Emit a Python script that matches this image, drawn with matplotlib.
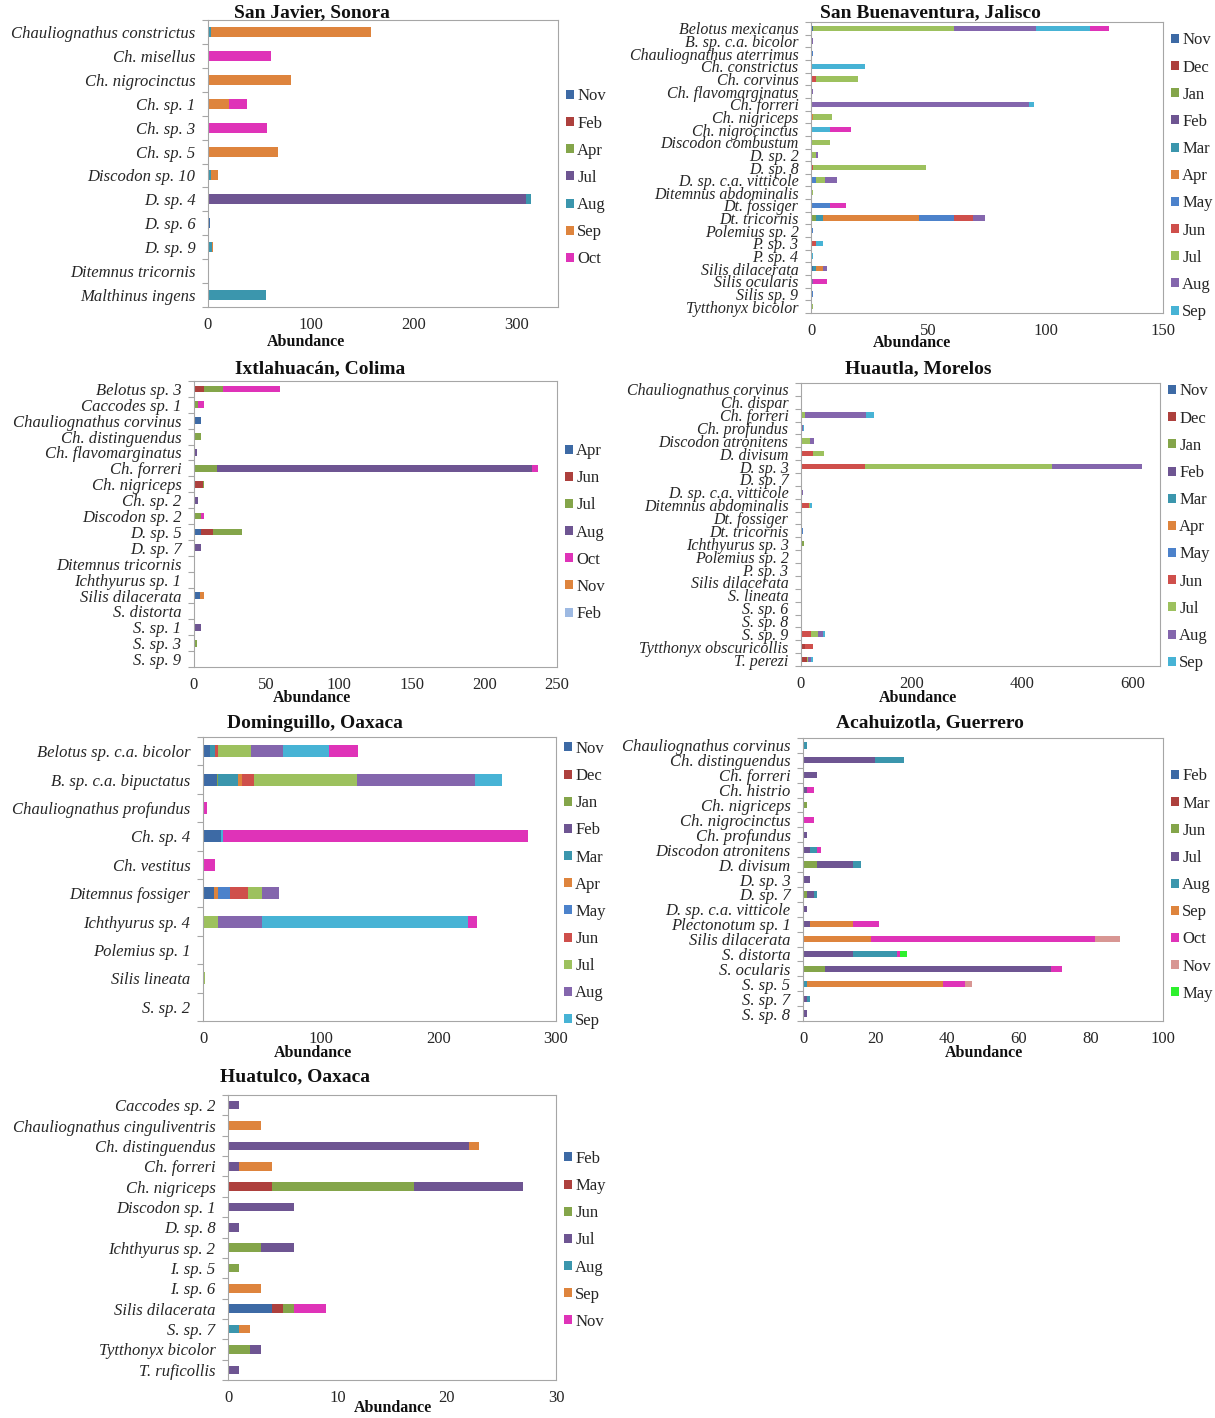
import matplotlib
matplotlib.use('Agg')
import matplotlib.pyplot as plt
from matplotlib.patches import Patch
import numpy as np

plt.rcParams['font.family'] = ['Liberation Serif', 'DejaVu Serif']

# ---------------- San Javier, Sonora ----------------
sj_months = ['Nov', 'Feb', 'Apr', 'Jul', 'Aug', 'Sep', 'Oct']
sj_species = ['Chauliognathus constrictus', 'Ch. misellus', 'Ch. nigrocinctus',
              'Ch. sp. 1', 'Ch. sp. 3', 'Ch. sp. 5', 'Discodon sp. 10', 'D. sp. 4',
              'D. sp. 6', 'D. sp. 9', 'Ditemnus tricornis', 'Malthinus ingens']
sj_values = [
    # Nov Feb Apr Jul Aug Sep Oct
    [0, 0, 0, 0, 3, 155, 0],
    [0, 0, 0, 0, 0, 0, 61],
    [0, 0, 0, 0, 0, 81, 0],
    [0, 0, 0, 0, 0, 20, 18],
    [0, 0, 0, 0, 0, 0, 57],
    [0, 0, 0, 0, 0, 68, 0],
    [0, 0, 0, 0, 3, 7, 0],
    [0, 0, 0, 309, 5, 0, 0],
    [2, 0, 0, 0, 0, 0, 0],
    [0, 0, 0, 0, 4, 1, 0],
    [0, 0, 1, 0, 0, 0, 0],
    [0, 0, 0, 0, 56, 0, 0],
]

# ---------------- San Buenaventura, Jalisco ----------------
sb_months = ['Nov', 'Dec', 'Jan', 'Feb', 'Mar', 'Apr', 'May', 'Jun', 'Jul', 'Aug', 'Sep', 'Oct']
sb_species = ['Belotus mexicanus', 'B. sp. c.a. bicolor', 'Chauliognathus aterrimus',
              'Ch. constrictus', 'Ch. corvinus', 'Ch. flavomarginatus', 'Ch. forreri',
              'Ch. nigriceps', 'Ch. nigrocinctus', 'Discodon combustum', 'D. sp. 2',
              'D. sp. 8', 'D. sp. c.a. vitticole', 'Ditemnus abdominalis', 'Dt. fossiger',
              'Dt. tricornis', 'Polemius sp. 2', 'P. sp. 3', 'P. sp. 4', 'Silis dilacerata',
              'Silis ocularis', 'Silis sp. 9', 'Tytthonyx bicolor']
sb_values = [
    # Nov Dec Jan Feb Mar Apr May Jun Jul Aug Sep Oct
    [1, 0, 0, 0, 0, 0, 0, 0, 60, 35, 23, 8],
    [0, 0, 0, 0, 0, 0, 0, 0, 0, 1, 0, 0],
    [0, 0, 0, 0, 0, 0, 1, 0, 0, 0, 0, 0],
    [0, 0, 0, 0, 0, 0, 0, 0, 0, 0, 23, 0],
    [0, 0, 0, 0, 0, 0, 0, 2, 18, 0, 0, 0],
    [0, 0, 0, 0, 0, 0, 0, 0, 0, 1, 0, 0],
    [0, 0, 0, 0, 0, 0, 0, 0, 0, 93, 2, 0],
    [0, 0, 0, 0, 0, 1, 0, 0, 8, 0, 0, 0],
    [0, 0, 0, 0, 0, 0, 0, 0, 0, 0, 8, 9],
    [0, 0, 0, 0, 0, 0, 0, 0, 8, 0, 0, 0],
    [0, 0, 0, 0, 0, 0, 0, 0, 2, 1, 0, 0],
    [0, 0, 0, 0, 0, 0, 0, 1, 48, 0, 0, 0],
    [0, 0, 0, 0, 0, 0, 2, 0, 4, 5, 0, 0],
    [0, 0, 0, 0, 0, 0, 0, 0, 1, 0, 0, 0],
    [0, 0, 0, 0, 0, 0, 8, 0, 0, 0, 0, 7],
    [0, 0, 2, 0, 3, 41, 15, 8, 0, 5, 0, 0],
    [0, 0, 0, 0, 0, 0, 1, 0, 0, 0, 0, 0],
    [0, 0, 0, 0, 0, 0, 0, 2, 0, 0, 3, 0],
    [0, 0, 0, 0, 0, 0, 0, 0, 0, 0, 1, 0],
    [1, 0, 0, 0, 1, 3, 0, 0, 0, 2, 0, 0],
    [0, 0, 0, 0, 0, 0, 0, 0, 0, 1, 0, 6],
    [0, 0, 0, 0, 0, 0, 1, 0, 0, 0, 0, 0],
    [0, 0, 0, 0, 0, 0, 0, 0, 1, 0, 0, 0],
]

# ---------------- Ixtlahuacan, Colima ----------------
ix_months = ['Apr', 'Jun', 'Jul', 'Aug', 'Oct', 'Nov', 'Feb']
ix_species = ['Belotus sp. 3', 'Caccodes sp. 1', 'Chauliognathus corvinus',
              'Ch. distinguendus', 'Ch. flavomarginatus', 'Ch. forreri', 'Ch. nigriceps',
              'Ch. sp. 2', 'Discodon sp. 2', 'D. sp. 5', 'D. sp. 7', 'Ditemnus tricornis',
              'Ichthyurus sp. 1', 'Silis dilacerata', 'S. distorta', 'S. sp. 1', 'S. sp. 3',
              'S. sp. 9']
ix_values = [
    # Apr Jun Jul Aug Oct Nov Feb
    [0, 7, 13, 0, 39, 0, 0],
    [0, 0, 3, 0, 4, 0, 0],
    [5, 0, 0, 0, 0, 0, 0],
    [0, 0, 5, 0, 0, 0, 0],
    [0, 0, 0, 2, 0, 0, 0],
    [0, 0, 16, 217, 4, 0, 0],
    [0, 6, 1, 0, 0, 0, 0],
    [0, 0, 0, 3, 0, 0, 0],
    [0, 1, 4, 0, 2, 0, 0],
    [5, 8, 20, 0, 0, 0, 0],
    [0, 0, 0, 5, 0, 0, 0],
    [0, 1, 0, 0, 0, 0, 0],
    [0, 0, 1, 0, 0, 0, 0],
    [4, 0, 0, 0, 0, 3, 0],
    [0, 0, 0, 1, 0, 0, 0],
    [0, 0, 0, 5, 0, 0, 0],
    [0, 0, 2, 0, 0, 0, 0],
    [0, 0, 1, 0, 0, 0, 0],
]

# ---------------- Huautla, Morelos ----------------
hm_months = ['Nov', 'Dec', 'Jan', 'Feb', 'Mar', 'Apr', 'May', 'Jun', 'Jul', 'Aug', 'Sep']
hm_species = ['Chauliognathus corvinus', 'Ch. dispar', 'Ch. forreri', 'Ch. profundus',
              'Discodon atronitens', 'D. divisum', 'D. sp. 3', 'D. sp. 7',
              'D. sp. c.a. vitticole', 'Ditemnus abdominalis', 'Dt. fossiger',
              'Dt. tricornis', 'Ichthyurus sp. 3', 'Polemius sp. 2', 'P. sp. 3',
              'Silis dilacerata', 'S. lineata', 'S. sp. 6', 'S. sp. 8', 'S. sp. 9',
              'Tytthonyx obscuricollis', 'T. perezi']
hm_values = [
    # Nov Dec Jan Feb Mar Apr May Jun Jul Aug Sep
    [0, 0, 0, 0, 0, 0, 0, 2, 0, 0, 0],
    [0, 0, 0, 0, 0, 0, 0, 0, 0, 0, 2],
    [0, 0, 0, 0, 0, 0, 0, 0, 8, 110, 15],
    [0, 0, 0, 0, 0, 0, 0, 0, 0, 3, 2],
    [0, 0, 0, 0, 0, 0, 0, 0, 16, 8, 0],
    [0, 0, 0, 0, 0, 0, 0, 21, 20, 0, 0],
    [0, 0, 0, 0, 0, 0, 0, 115, 340, 163, 0],
    [0, 0, 0, 0, 0, 0, 0, 0, 2, 0, 0],
    [0, 0, 0, 0, 0, 0, 0, 0, 0, 3, 0],
    [0, 0, 0, 0, 0, 0, 0, 15, 2, 0, 3],
    [0, 0, 0, 0, 0, 0, 0, 0, 1, 0, 0],
    [0, 0, 0, 0, 0, 0, 3, 0, 0, 0, 0],
    [0, 0, 6, 0, 0, 0, 0, 0, 0, 0, 0],
    [0, 0, 0, 0, 0, 0, 0, 0, 2, 0, 0],
    [0, 0, 0, 0, 0, 0, 0, 2, 0, 0, 0],
    [0, 0, 0, 0, 0, 0, 0, 2, 0, 0, 0],
    [0, 0, 0, 0, 0, 0, 0, 0, 0, 2, 0],
    [0, 0, 0, 0, 0, 0, 0, 0, 1, 0, 0],
    [0, 0, 0, 0, 0, 0, 0, 0, 1, 0, 0],
    [0, 0, 0, 0, 0, 0, 0, 18, 13, 9, 4],
    [0, 7, 0, 0, 0, 0, 0, 14, 0, 0, 0],
    [0, 10, 0, 0, 0, 0, 0, 0, 2, 6, 4],
]

# ---------------- Dominguillo, Oaxaca ----------------
do_months = ['Nov', 'Dec', 'Jan', 'Feb', 'Mar', 'Apr', 'May', 'Jun', 'Jul', 'Aug', 'Sep', 'Oct']
do_species = ['Belotus sp. c.a. bicolor', 'B. sp. c.a. bipuctatus', 'Chauliognathus profundus',
              'Ch. sp. 4', 'Ch. vestitus', 'Ditemnus fossiger', 'Ichthyurus sp. 4',
              'Polemius sp. 1', 'Silis lineata', 'S. sp. 2']
do_values = [
    # Nov Dec Jan Feb Mar Apr May Jun Jul Aug Sep Oct
    [6, 0, 0, 0, 4, 0, 0, 3, 28, 27, 39, 25],
    [12, 0, 1, 0, 17, 3, 0, 10, 88, 100, 23, 0],
    [0, 0, 0, 0, 0, 0, 0, 0, 0, 0, 0, 3],
    [15, 0, 0, 0, 0, 0, 0, 0, 0, 0, 2, 259],
    [0, 0, 0, 0, 0, 0, 0, 0, 0, 0, 0, 10],
    [9, 0, 0, 0, 0, 4, 10, 15, 12, 15, 0, 0],
    [0, 0, 0, 0, 0, 0, 0, 0, 13, 37, 175, 8],
    [0, 0, 0, 0, 0, 0, 0, 0, 1, 0, 0, 0],
    [0, 0, 0, 0, 0, 0, 0, 0, 2, 0, 0, 0],
    [0, 0, 0, 0, 0, 0, 0, 0, 0, 0, 1, 0],
]

# ---------------- Acahuizotla, Guerrero ----------------
ac_months = ['Feb', 'Mar', 'Jun', 'Jul', 'Aug', 'Sep', 'Oct', 'Nov', 'May']
ac_species = ['Chauliognathus corvinus', 'Ch. distinguendus', 'Ch. forreri', 'Ch. histrio',
              'Ch. nigriceps', 'Ch. nigrocinctus', 'Ch. profundus', 'Discodon atronitens',
              'D. divisum', 'D. sp. 3', 'D. sp. 7', 'D. sp. c.a. vitticole',
              'Plectonotum sp. 1', 'Silis dilacerata', 'S. distorta', 'S. ocularis',
              'S. sp. 5', 'S. sp. 7', 'S. sp. 8']
ac_values = [
    # Feb Mar Jun Jul Aug Sep Oct Nov May
    [0, 0, 0, 0, 1, 0, 0, 0, 0],
    [0, 0, 0, 20, 8, 0, 0, 0, 0],
    [0, 0, 0, 4, 0, 0, 0, 0, 0],
    [0, 0, 0, 1, 0, 0, 2, 0, 0],
    [0, 0, 1, 0, 0, 0, 0, 0, 0],
    [0, 0, 0, 0, 0, 0, 3, 0, 0],
    [0, 0, 0, 1, 0, 0, 0, 0, 0],
    [0, 0, 0, 2, 2, 0, 1, 0, 0],
    [0, 0, 4, 10, 2, 0, 0, 0, 0],
    [0, 0, 0, 2, 0, 0, 0, 0, 0],
    [0, 0, 1, 2, 1, 0, 0, 0, 0],
    [0, 0, 0, 1, 0, 0, 0, 0, 0],
    [0, 0, 0, 2, 0, 12, 7, 0, 0],
    [0, 0, 0, 0, 0, 19, 62, 7, 0],
    [0, 0, 0, 14, 12, 0, 1, 0, 2],
    [0, 0, 6, 63, 0, 0, 3, 0, 0],
    [0, 0, 0, 0, 1, 38, 6, 2, 0],
    [0, 0, 0, 1, 1, 0, 0, 0, 0],
    [0, 0, 0, 1, 0, 0, 0, 0, 0],
]

# ---------------- Huatulco, Oaxaca ----------------
hu_months = ['Feb', 'May', 'Jun', 'Jul', 'Aug', 'Sep', 'Nov']
hu_species = ['Caccodes sp. 2', 'Chauliognathus cinguliventris', 'Ch. distinguendus',
              'Ch. forreri', 'Ch. nigriceps', 'Discodon sp. 1', 'D. sp. 8',
              'Ichthyurus sp. 2', 'I. sp. 5', 'I. sp. 6', 'Silis dilacerata', 'S. sp. 7',
              'Tytthonyx bicolor', 'T. ruficollis']
hu_values = [
    # Feb May Jun Jul Aug Sep Nov
    [0, 0, 0, 1, 0, 0, 0],
    [0, 0, 0, 0, 0, 3, 0],
    [0, 0, 0, 22, 0, 1, 0],
    [0, 0, 0, 1, 0, 3, 0],
    [0, 4, 13, 10, 0, 0, 0],
    [0, 0, 0, 6, 0, 0, 0],
    [0, 0, 0, 1, 0, 0, 0],
    [0, 0, 3, 3, 0, 0, 0],
    [0, 0, 1, 0, 0, 0, 0],
    [0, 0, 0, 0, 0, 3, 0],
    [4, 1, 1, 0, 0, 0, 3],
    [0, 0, 0, 0, 1, 1, 0],
    [0, 0, 2, 1, 0, 0, 0],
    [0, 0, 0, 1, 0, 0, 0],
]

# colours
BLUE = '#3d6aa5'
RED = '#ad403d'
GREEN = '#84a54a'
PURPLE = '#6e5592'
TEAL = '#3b96ad'
ORANGE = '#de843d'
MAGENTA = '#df33b8'
LBLUE = '#4c82cb'
LRED = '#cf4f4b'
LGREEN = '#9dc15e'
LPURPLE = '#8466ad'
LCYAN = '#47b3d5'
PALE_BLUE = '#9db9e2'
PINK = '#d89693'
LIME = '#2df02d'

twelve = [BLUE, RED, GREEN, PURPLE, TEAL, ORANGE, LBLUE, LRED, LGREEN, LPURPLE, LCYAN, MAGENTA]
seven = [BLUE, RED, GREEN, PURPLE, TEAL, ORANGE, MAGENTA]

W, H = 1215, 1418
TEXT = '#262626'
GRID = '#a6a6a6'


def px_rect(left, top, right, bottom):
    return [left / W, 1 - bottom / H, (right - left) / W, (bottom - top) / H]


def plot_site(fig, rect, title, title_xy, label_xy, months, species, values, colors,
              xmax, xticks, legend_n, legend_y, label_size=12):
    ax = fig.add_axes(rect)
    vals = np.array(values, dtype=float)
    y = np.arange(len(species))
    left = np.zeros(len(species))
    for j, month in enumerate(months):
        ax.barh(y, vals[:, j], left=left, height=0.42, color=colors[j], linewidth=0)
        left += vals[:, j]

    ax.set_xlim(0, xmax)
    ax.set_ylim(len(species) - 0.5, -0.5)
    ax.set_yticks(y)
    ax.set_yticklabels(species, style='italic', fontsize=label_size, color=TEXT)
    ax.set_yticks(np.arange(len(species) + 1) - 0.5, minor=True)
    ax.tick_params(axis='y', which='major', length=0, pad=9)
    ax.tick_params(axis='y', which='minor', length=4, color=GRID, width=0.8)
    ax.set_xticks(xticks)
    ax.set_xticklabels([str(t) for t in xticks], fontsize=12, color=TEXT)
    ax.tick_params(axis='x', length=0, pad=7)
    for s in ax.spines.values():
        s.set_color(GRID)
        s.set_linewidth(0.8)

    handles = [Patch(facecolor=colors[j], label=months[j]) for j in range(legend_n)]
    ax.legend(handles=handles, loc='center left', bbox_to_anchor=(1.0, legend_y),
              frameon=False, fontsize=12, handlelength=0.45, handleheight=0.45,
              handletextpad=0.2, labelspacing=0.67, borderaxespad=0.1,
              labelcolor=TEXT)

    fig.text(title_xy[0] / W, 1 - title_xy[1] / H, title, fontsize=14, fontweight='bold',
             ha='center', va='center', color='#111111')
    fig.text(label_xy[0] / W, 1 - label_xy[1] / H, 'Abundance', fontsize=11.5,
             fontweight='bold', ha='center', va='center', color='#111111')
    return ax


def main():
    fig = plt.figure(figsize=(W / 100, H / 100), dpi=100)

    plot_site(fig, px_rect(208, 20, 558, 307), 'San Javier, Sonora', (312, 13), (306, 342),
              sj_months, sj_species, sj_values, seven, 340, [0, 100, 200, 300], 7, 0.45)
    plot_site(fig, px_rect(811, 22, 1163, 313), 'San Buenaventura, Jalisco', (930, 13), (912, 343),
              sb_months, sb_species, sb_values, twelve, 150, [0, 50, 100, 150], 11, 0.47,
              label_size=11.5)
    plot_site(fig, px_rect(194, 381, 557, 667), 'Ixtlahuac\u00e1n, Colima', (320, 369), (312, 698),
              ix_months, ix_species, ix_values,
              [BLUE, RED, GREEN, PURPLE, MAGENTA, ORANGE, PALE_BLUE],
              250, [0, 50, 100, 150, 200, 250], 7, 0.47)
    plot_site(fig, px_rect(801, 383, 1160, 666), 'Huautla, Morelos', (918, 369), (918, 698),
              hm_months, hm_species, hm_values, twelve, 650, [0, 200, 400, 600], 11, 0.49,
              label_size=11.5)
    plot_site(fig, px_rect(203, 737, 556, 1021), 'Dominguillo, Oaxaca', (315, 723), (313, 1053),
              do_months, do_species, do_values, twelve, 300, [0, 100, 200, 300], 11, 0.48)
    plot_site(fig, px_rect(803, 738, 1163, 1021), 'Acahuizotla, Guerrero', (930, 723), (984, 1053),
              ac_months, ac_species, ac_values,
              [BLUE, RED, GREEN, PURPLE, TEAL, ORANGE, MAGENTA, PINK, LIME],
              100, [0, 20, 40, 60, 80, 100], 9, 0.48)
    plot_site(fig, px_rect(228, 1095, 556, 1380), 'Huatulco, Oaxaca', (295, 1077), (393, 1408),
              hu_months, hu_species, hu_values, seven, 30, [0, 10, 20, 30], 7, 0.49)

    fig.savefig('out.png', dpi=100)


if __name__ == '__main__':
    main()
